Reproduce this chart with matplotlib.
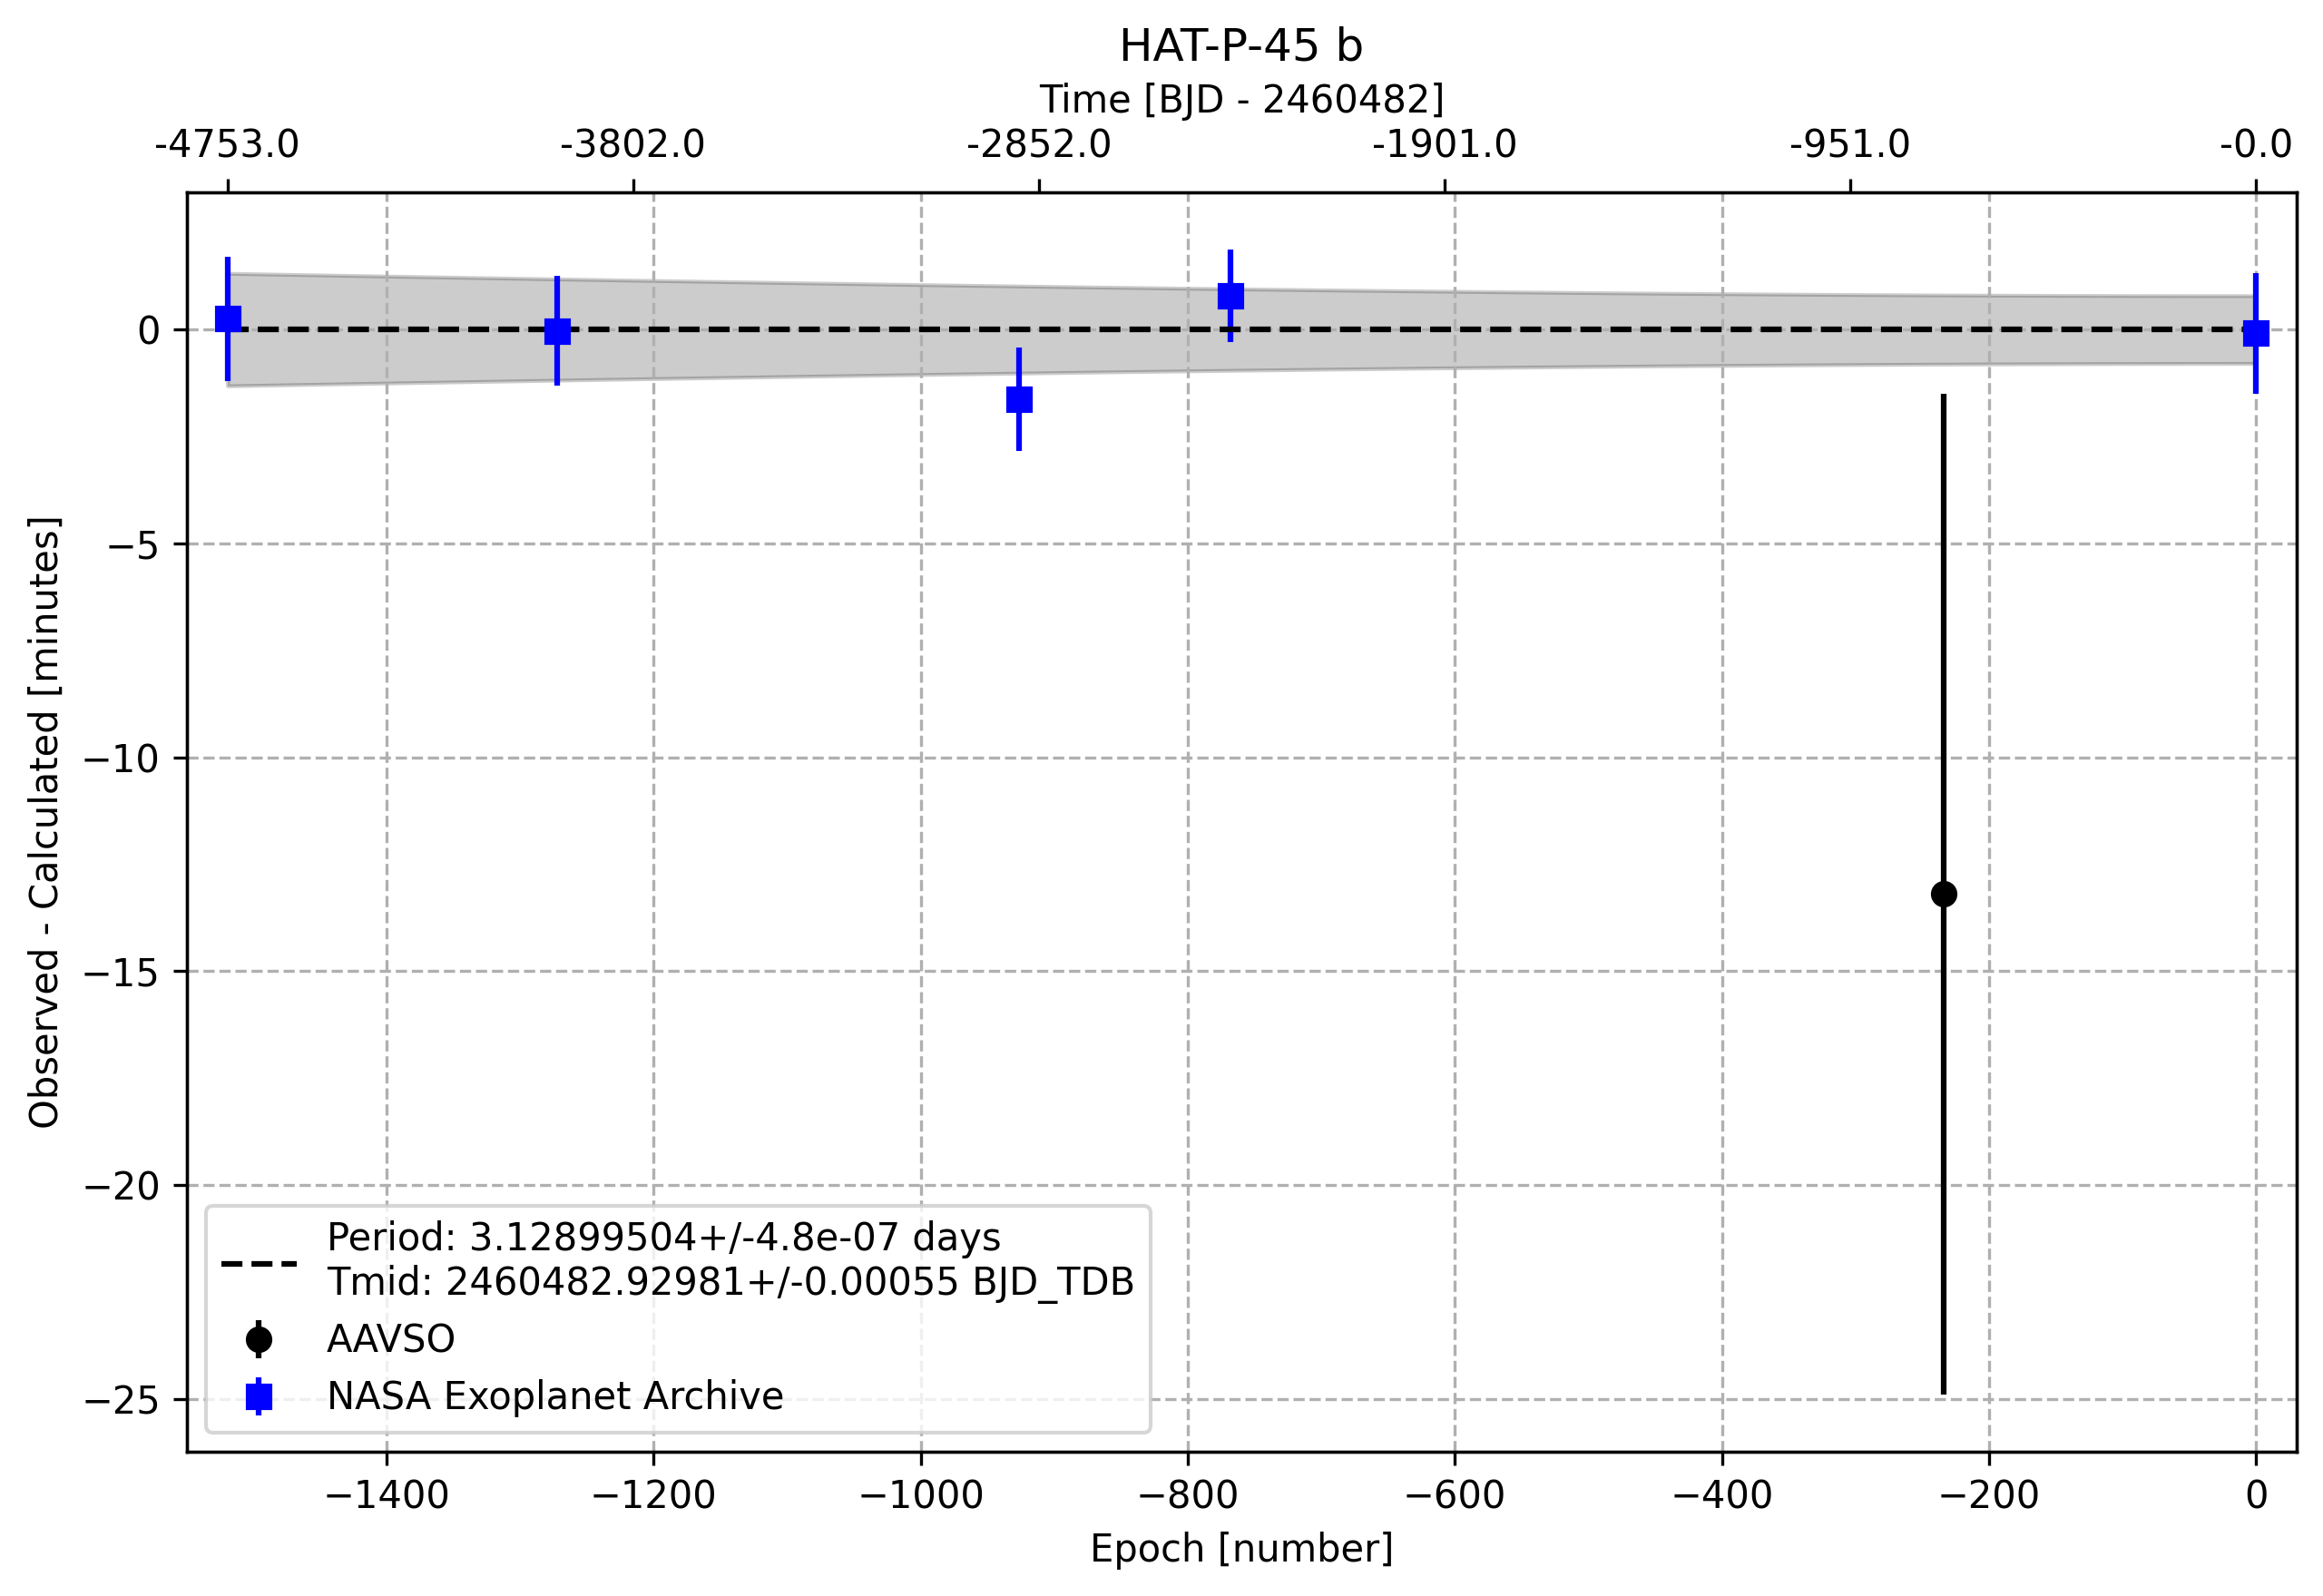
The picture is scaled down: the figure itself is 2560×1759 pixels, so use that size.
import numpy as np
import matplotlib
matplotlib.use("Agg")
import matplotlib.pyplot as plt

# ---- data ----
period_days = 3.12899504
period_err_days = 4.8e-07
tmid = 2460482.92981
tmid_err_days = 0.00055

aavso_epoch = [-234]
aavso_oc = [-13.2]
aavso_err = [11.7]

nasa_epoch = [-1519, -1272, -926, -768, 0]
nasa_oc = [0.25, -0.03, -1.62, 0.79, -0.09]
nasa_err = [1.45, 1.28, 1.21, 1.08, 1.42]

top_tick_labels = ["-4753.0", "-3802.0", "-2852.0", "-1901.0", "-951.0", "-0.0"]

title = "HAT-P-45 b"

# ---- figure ----
fig = plt.figure(figsize=(2560 / 300, 1759 / 300), dpi=300)
ax = fig.add_axes([206 / 2560, 1 - 1600 / 1759, (2531 - 206) / 2560, (1600 - 212) / 1759])

all_epochs = np.array(nasa_epoch + aavso_epoch)
emin, emax = all_epochs.min(), all_epochs.max()
ep = np.linspace(emin, emax, 1000)
sig = np.sqrt((tmid_err_days * 1440) ** 2 + (ep * period_err_days * 1440) ** 2)
ax.fill_between(ep, -sig, sig, color="k", alpha=0.2)

ax.errorbar(aavso_epoch, aavso_oc, yerr=aavso_err, fmt="o", color="black", label="AAVSO")
ax.errorbar(nasa_epoch, nasa_oc, yerr=nasa_err, fmt="s", color="blue",
            label="NASA Exoplanet Archive")
ax.plot([emin, emax], [0, 0], "k--",
        label=f"Period: {period_days}+/-{period_err_days:.1e} days\n"
              f"Tmid: {tmid}+/-{tmid_err_days} BJD_TDB")

span = emax - emin
ax.set_xlim(emin - 0.02 * span, emax + 0.02 * span)
ax.grid(True, ls="--")
ax.set_xlabel("Epoch [number]")
ax.set_ylabel("Observed - Calculated [minutes]")
ax.legend(loc="lower left")

ax2 = ax.twiny()
ax2.set_xlim(ax.get_xlim())
ax2.set_xticks(np.linspace(emin, emax, len(top_tick_labels)))
ax2.set_xticklabels(top_tick_labels)
ax2.set_xlabel("Time [BJD - 2460482]")
ax.set_title(title)

fig.savefig("out.png", dpi=300)
